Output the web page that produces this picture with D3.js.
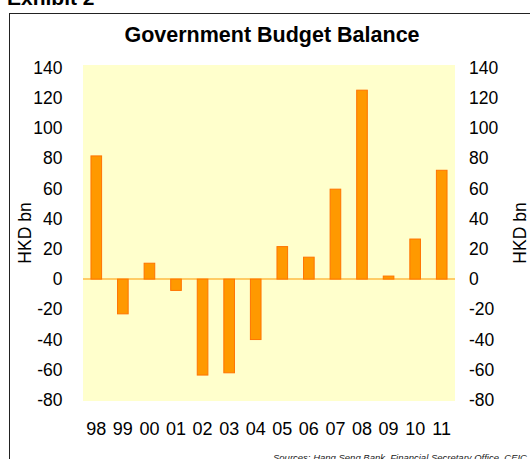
<!DOCTYPE html>
<html><head><meta charset="utf-8">
<script src="https://cdn.jsdelivr.net/npm/d3@7"></script>
<style>body{margin:0;background:#fff}svg{display:block;font-family:"Liberation Sans",Arial,sans-serif}</style>
</head><body>
<svg id="c" width="530" height="459"></svg>
<script>
const years = ["98","99","00","01","02","03","04","05","06","07","08","09","10","11"];
const balance = [81.5, -23, 10.5, -7.5, -63.5, -62, -40, 21.5, 14.5, 59.5, 125, 2, 26.5, 72];
const yTicks = [140,120,100,80,60,40,20,0,-20,-40,-60,-80];

const svg = d3.select("#c");
const L = 83, R = 455, T = 67.5, B = 400;

svg.append("text").attr("x", 7).attr("y", 5).attr("font-size", 21).attr("font-weight", "bold").text("Exhibit 2");
svg.append("rect").attr("x", 9.5).attr("y", 13.5).attr("width", 540).attr("height", 460)
  .attr("fill", "none").attr("stroke", "#222").attr("stroke-width", 1);

svg.append("text").attr("x", 272).attr("y", 41.5).attr("text-anchor", "middle")
  .attr("font-size", 21.5).attr("font-weight", "bold").text("Government Budget Balance");

const x = d3.scaleBand().domain(years).range([L, R]).paddingInner(0.6).paddingOuter(0.3);
const y = d3.scaleLinear().domain([-80, 140]).range([B, T]);

svg.append("rect").attr("x", L).attr("y", 65).attr("width", R - L).attr("height", 336).attr("fill", "#FFFFCC");

svg.append("line").attr("x1", L).attr("x2", R).attr("y1", y(0)).attr("y2", y(0))
  .attr("stroke", "#FFCC66").attr("stroke-width", 2);

svg.selectAll("rect.bar").data(balance).join("rect").attr("class", "bar")
  .attr("x", (d, i) => x(years[i]))
  .attr("width", x.bandwidth())
  .attr("y", d => Math.min(y(d), y(0)))
  .attr("height", d => Math.abs(y(d) - y(0)))
  .attr("fill", "#FF9900").attr("stroke", "#FF7400").attr("stroke-width", 1);

const fmt = d => String(d);
const la = svg.append("g").attr("transform", `translate(${L - 20.5},0)`)
  .call(d3.axisLeft(y).tickValues(yTicks).tickFormat(fmt).tickSize(0).tickPadding(0));
const ra = svg.append("g").attr("transform", `translate(${R + 14},0)`)
  .call(d3.axisRight(y).tickValues(yTicks).tickFormat(fmt).tickSize(0).tickPadding(0));
[la, ra].forEach(g => { g.select(".domain").remove(); g.selectAll("text").attr("font-size", 17.5).attr("fill", "#000").attr("font-family", "Liberation Sans, Arial, sans-serif"); });

const xa = svg.append("g").attr("transform", `translate(0,${B + 22})`)
  .call(d3.axisBottom(x).tickSize(0).tickPadding(0));
xa.select(".domain").remove();
xa.selectAll("text").attr("font-size", 18).attr("fill", "#000").attr("font-family", "Liberation Sans, Arial, sans-serif").attr("dy", "0.71em");

svg.append("text").attr("transform", `translate(31,233) rotate(-90)`).attr("text-anchor", "middle")
  .attr("font-size", 17.5).text("HKD bn");
svg.append("text").attr("transform", `translate(526,233) rotate(-90)`).attr("text-anchor", "middle")
  .attr("font-size", 17.5).text("HKD bn");

svg.append("text").attr("x", 273).attr("y", 461).attr("font-size", 9.5).attr("font-style", "italic")
  .attr("fill", "#222").text("Sources: Hang Seng Bank, Financial Secretary Office, CEIC");
</script>
</body></html>
